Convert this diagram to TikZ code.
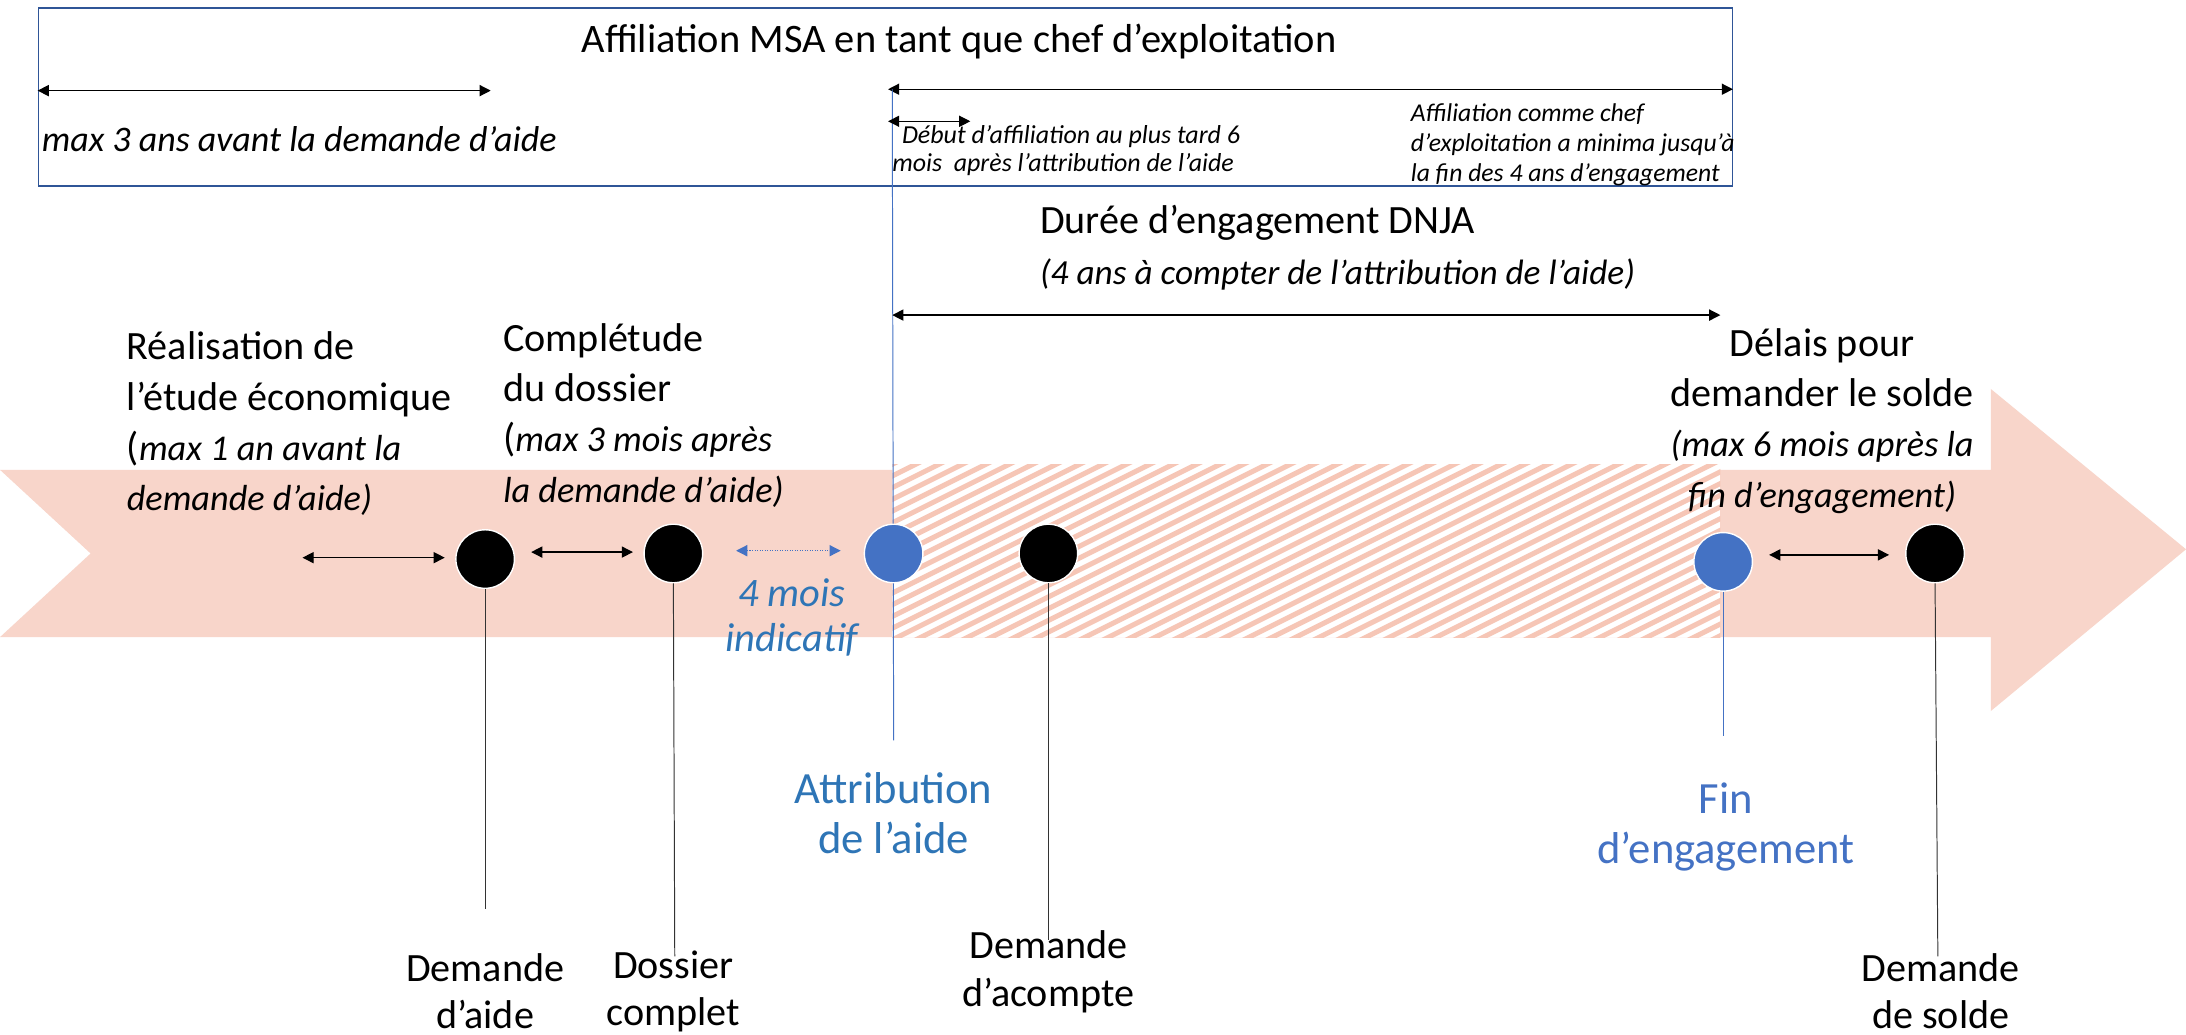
\documentclass[tikz,border=0pt]{standalone}
\usepackage{fontspec}
\setmainfont{Carlito}
\usetikzlibrary{arrows.meta}
\definecolor{band}{RGB}{248,213,202}
\definecolor{hatchc}{RGB}{246,198,182}
\definecolor{boxblue}{RGB}{47,85,151}
\definecolor{dotblue}{RGB}{68,114,196}
\definecolor{txtblue}{RGB}{46,117,182}
\tikzset{
  txt/.style={inner sep=0pt, outer sep=0pt},
  big/.style={txt, font=\fontsize{28.8}{36}\selectfont},
  evt/.style={circle, minimum size=42pt, inner sep=0pt, draw=white, line width=1pt},
  blackevt/.style={evt, fill=black},
  blueevt/.style={evt, fill=dotblue},
  tip/.tip={Triangle[length=8pt,width=8pt]},
  dbl/.style={tip-tip, line width=0.9pt, black},
  stem/.style={line width=0.7pt, black!80},
  bluestem/.style={line width=0.7pt, dotblue},
}
\begin{document}
\begin{tikzpicture}[x=1pt,y=-1pt]
\useasboundingbox (0,0) rectangle (1568,742);
\fill[white] (0,0) rectangle (1568,742);

% band arrow
\fill[band] (0,337) -- (1428,337) -- (1428,279) -- (1568,394) -- (1428,510) -- (1428,457) -- (0,457) -- (65,397) -- cycle;

% hatched engagement period
\begin{scope}
\clip (640,333) rectangle (1234,457);
\fill[white] (640,333) rectangle (1234,457);
\foreach \c in {333,341.4,...,770} \draw[hatchc, line width=3.6pt] (630,\c+5) -- (1244,\c-302);
\end{scope}

% top box
\node[draw=boxblue, line width=1.2pt, minimum width=1215pt, minimum height=128pt, inner sep=0pt, anchor=north west] (box) at (27,5) {};
\node[txt, font=\fontsize{29}{35}\selectfont] (title) at (688,30) {Affiliation MSA en tant que chef d’exploitation};

\coordinate (m3l) at (27,65); \coordinate (m3r) at (352,65);
\draw[dbl] (m3l) -- (m3r);
\node[txt, font=\fontsize{25.8}{31}\selectfont\itshape, anchor=west] (m3txt) at (30,100) {max 3 ans avant la demande d’aide};

\coordinate (afl) at (637,64); \coordinate (afr) at (1243,64);
\draw[dbl] (afl) -- (afr);
\coordinate (dbl1) at (637,87); \coordinate (dbr1) at (696,87);

% vertical blue line at attribution
\coordinate (attrTop) at (640,64); \coordinate (attrBot) at (641,531);
\draw[bluestem] (attrTop) -- (attrBot);

\node[txt, font=\fontsize{18.6}{20.5}\selectfont\itshape, align=left, anchor=west] (debut) at (640,108) {\hspace{7pt}Début d’affiliation au plus tard 6\\mois\ \ après l’attribution de l’aide};
\draw[dbl, line width=0.8pt] (dbl1) -- (dbr1);
\node[txt, font=\fontsize{18.4}{21.5}\selectfont\itshape, align=left, anchor=west] (minima) at (1012,104) {Affiliation comme chef\\d’exploitation a minima jusqu’à\\la fin des 4 ans d’engagement};

% Duree d'engagement
\node[txt, font=\fontsize{28.8}{35}\selectfont, anchor=west] (duree) at (746,160) {Durée d’engagement DNJA};
\node[txt, font=\fontsize{25.3}{31}\selectfont\itshape, anchor=west] (dureesub) at (746,197) {(4 ans à compter de l’attribution de l’aide)};
\coordinate (del) at (640,226); \coordinate (der) at (1234,226);
\draw[dbl] (del) -- (der);

% upper labels
\node[big, align=left, anchor=west] (real) at (91,304) {Réalisation de\\l’étude économique\\(\fontsize{26}{36}\selectfont\itshape max 1 an avant la\\\fontsize{26}{36}\selectfont\itshape demande d’aide)};
\node[big, align=left, anchor=west] (compl) at (361,298) {Complétude\\du dossier\\(\fontsize{26}{36}\selectfont\itshape max 3 mois après\\\fontsize{26}{36}\selectfont\itshape la demande d’aide)};
\node[big, align=center] (delais) at (1307,302) {Délais pour\\demander le solde\\\fontsize{26}{36}\selectfont\itshape (max 6 mois après la\\\fontsize{26}{36}\selectfont\itshape fin d’engagement)};

% events
\node[blackevt] (c1) at (348,401) {};
\node[blackevt] (c2) at (483,397) {};
\node[blueevt] (c3) at (641,397) {};
\node[blackevt] (c4) at (752,397) {};
\node[blueevt] (c5) at (1236,403) {};
\node[blackevt] (c6) at (1388,397) {};

% small arrows
\coordinate (a1l) at (217,400); \coordinate (a1r) at (319,400);
\draw[dbl] (a1l) -- (a1r);
\coordinate (a2l) at (381,396); \coordinate (a2r) at (454,396);
\draw[dbl] (a2l) -- (a2r);
\coordinate (a3l) at (528,395); \coordinate (a3r) at (603,395);
\draw[tip-tip, dotblue, line width=0.8pt, densely dotted] (a3l) -- (a3r);
\coordinate (a4l) at (1269,398); \coordinate (a4r) at (1355,398);
\draw[dbl] (a4l) -- (a4r);

\node[txt, font=\fontsize{29}{32}\selectfont\itshape, text=txtblue, align=center] (quatre) at (568,443) {4 mois\\indicatif};

% stems
\coordinate (s1) at (348,652); \draw[stem] (c1.south) -- (s1);
\coordinate (s2) at (484,686); \draw[stem] (c2.south) -- (s2);
\coordinate (s4) at (752,674); \draw[stem] (c4.south) -- (s4);
\coordinate (s5) at (1236,528); \draw[bluestem] (c5.south) -- (s5);
\coordinate (s6) at (1390,686); \draw[stem] (c6.south) -- (s6);

% bottom labels
\node[txt, font=\fontsize{28.8}{34}\selectfont, align=center] (lb1) at (348,711) {Demande\\d’aide};
\node[txt, font=\fontsize{28.8}{34}\selectfont, align=center] (lb2) at (483,711) {Dossier\\complet};
\node[txt, font=\fontsize{28.8}{34}\selectfont, align=center] (lb4) at (752,697) {Demande\\d’acompte};
\node[txt, font=\fontsize{28.8}{34}\selectfont, align=center] (lb6) at (1392,711) {Demande\\de solde};
\node[txt, font=\fontsize{32}{36}\selectfont, text=txtblue, align=center] (lb3) at (641,583) {Attribution\\de l’aide};
\node[txt, font=\fontsize{32}{36}\selectfont, text=dotblue, align=center] (lb5) at (1238,593) {Fin\\d’engagement};
\end{tikzpicture}
\end{document}
